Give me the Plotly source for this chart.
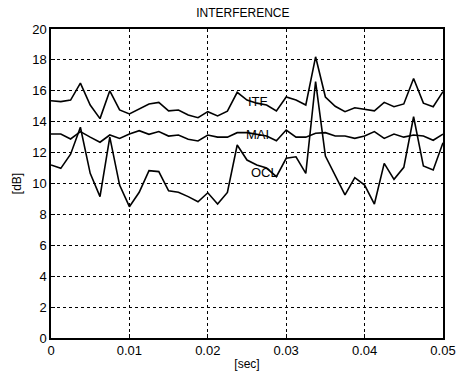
import plotly.graph_objects as go

# time samples (s)
t = [k * 0.00125 for k in range(41)]

itf = [15.36, 15.3, 15.4, 16.5, 15.08, 14.2, 16.0, 14.76, 14.5, 14.8,
       15.15, 15.25, 14.7, 14.76, 14.43, 14.26, 14.65, 14.37, 14.68, 15.9,
       15.4, 15.2, 15.08, 14.7, 15.6, 15.4, 15.08, 18.2, 15.6, 15.0,
       14.65, 14.9, 14.8, 14.7, 15.25, 14.97, 15.15, 16.8, 15.2, 14.97, 15.95]

mai = [13.2, 13.2, 12.88, 13.36, 13.0, 12.67, 13.14, 12.92, 13.2, 13.42,
       13.18, 13.36, 13.07, 13.14, 12.86, 12.75, 13.14, 13.0, 13.0, 13.29,
       13.29, 13.2, 13.07, 12.77, 13.46, 13.0, 13.0, 13.25, 13.29, 13.07,
       13.07, 12.92, 13.07, 13.36, 12.92, 13.2, 13.0, 13.14, 13.07, 12.8, 13.2]

ocl = [11.2, 10.98, 11.9, 13.64, 10.66, 9.15, 13.0, 9.9, 8.5, 9.43,
       10.83, 10.77, 9.53, 9.43, 9.15, 8.82, 9.4, 8.67, 9.42, 12.49,
       11.52, 11.2, 11.0, 10.44, 11.63, 11.73, 10.66, 16.6, 11.78, 10.55,
       9.26, 10.38, 9.9, 8.67, 11.3, 10.27, 11.05, 14.32, 11.13, 10.87, 12.64]

series_names = ["ITF", "MAI", "OCL"]
label_x = [0.0264, 0.0264, 0.0272]
label_y = [15.3, 13.2, 10.7]

x_ticks = [0, 0.01, 0.02, 0.03, 0.04, 0.05]
x_ticktext = ["0", "0.01", "0.02", "0.03", "0.04", "0.05"]
y_ticks = [0, 2, 4, 6, 8, 10, 12, 14, 16, 18, 20]

FONT = "Liberation Sans, Arial"

fig = go.Figure()
for name, ys in zip(series_names, [itf, mai, ocl]):
    fig.add_trace(go.Scatter(x=t, y=ys, mode="lines", name=name,
                             line=dict(color="black", width=1.6)))

for name, lx, ly in zip(series_names, label_x, label_y):
    fig.add_annotation(x=lx, y=ly, text=name, showarrow=False,
                       font=dict(family=FONT, size=13, color="black"))

fig.update_layout(
    width=460, height=378,
    margin=dict(l=51, r=17, t=29, b=40, autoexpand=False),
    paper_bgcolor="white", plot_bgcolor="white",
    showlegend=False,
    title=dict(text="INTERFERENCE", x=0.528, xanchor="center", y=0.965, yanchor="middle",
               font=dict(family=FONT, size=12, color="black")),
    font=dict(family=FONT, size=13, color="black"),
)
fig.update_xaxes(range=[0, 0.05], tickvals=x_ticks, ticktext=x_ticktext,
                 automargin=False,
                 showgrid=True, gridcolor="black", griddash="dot", gridwidth=1,
                 zeroline=False, showline=True, linecolor="black", linewidth=1.5,
                 mirror=True, ticks="inside", ticklen=4, tickcolor="black",
                 title=dict(text="[sec]", standoff=2, font=dict(size=12)),
                 tickfont=dict(size=13))
fig.update_yaxes(range=[0, 20], tickvals=y_ticks,
                 automargin=False,
                 showgrid=True, gridcolor="black", griddash="3px,3px", gridwidth=1,
                 zeroline=False, showline=True, linecolor="black", linewidth=1.5,
                 mirror=True, ticks="inside", ticklen=4, tickcolor="black",
                 title=dict(text="[dB]", standoff=8, font=dict(size=12)),
                 tickfont=dict(size=13))

fig.write_html("out.html", config={"displayModeBar": False},
               post_script="document.body.style.margin='0';")
